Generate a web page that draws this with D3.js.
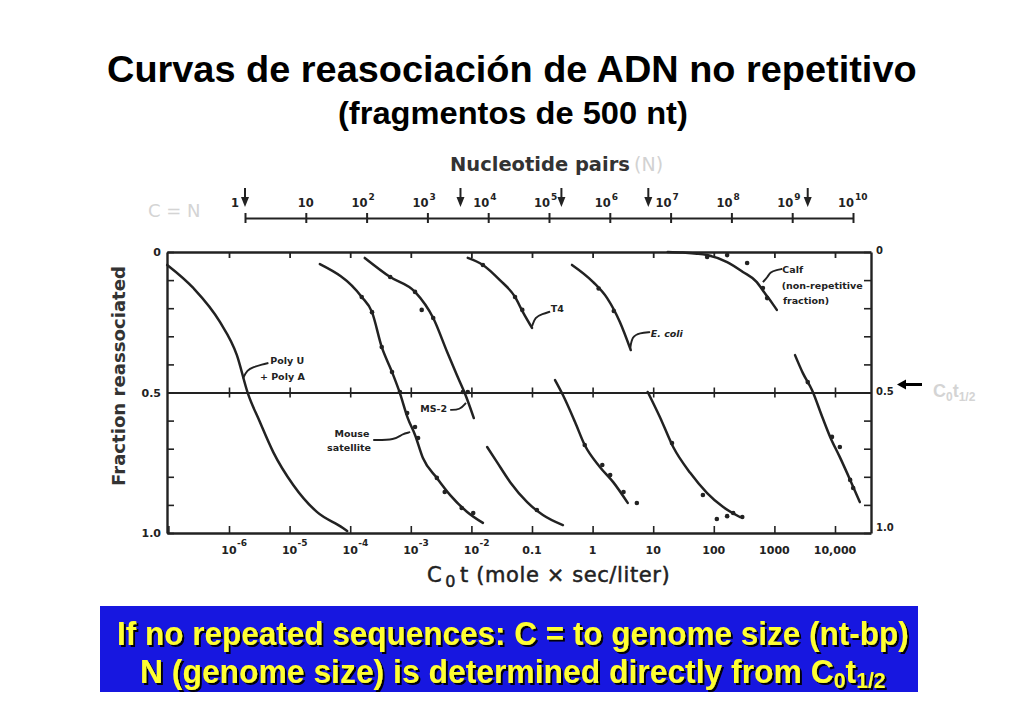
<!DOCTYPE html>
<html><head><meta charset="utf-8">
<script src="https://cdn.jsdelivr.net/npm/d3@7"></script>
<style>body{margin:0;background:#fff}svg{display:block}</style>
</head><body><svg id="c" width="1024" height="709"></svg>
<script>
// ---------- DATA (log10 Cot, fraction reassociated) ----------
const polyCurve   = [[-7.02,0.046],[-6.59,0.128],[-6.15,0.249],[-5.87,0.367],[-5.69,0.502],[-5.49,0.605],[-5.27,0.712],[-4.94,0.829],[-4.55,0.925],[-4.12,0.982],[-4.05,0.993]];
const mouseCurve  = [[-4.50,0.043],[-3.81,0.160],[-3.64,0.214],[-3.48,0.338],[-3.31,0.427],[-3.18,0.502],[-3.05,0.591],[-2.93,0.651],[-2.80,0.733],[-2.57,0.804],[-2.35,0.865],[-2.07,0.925],[-1.81,0.964]];
const ms2Upper    = [[-3.76,0.021],[-3.34,0.089],[-2.93,0.142],[-2.63,0.235],[-2.40,0.356],[-2.24,0.438],[-2.11,0.502],[-1.96,0.591]];
const ms2Lower    = [[-1.74,0.694],[-1.58,0.747],[-1.36,0.819],[-1.08,0.890],[-0.82,0.936],[-0.49,0.972]];
const t4Upper     = [[-2.06,0.021],[-1.81,0.046],[-1.53,0.100],[-1.28,0.160],[-1.15,0.214],[-1.00,0.270]];
const t4Lower     = [[-0.62,0.456],[-0.49,0.509],[-0.29,0.605],[-0.13,0.687],[0.12,0.765],[0.34,0.819],[0.58,0.893]];
const ecoliUpper  = [[-0.34,0.046],[0.01,0.107],[0.24,0.164],[0.45,0.249],[0.63,0.349]];
const ecoliLower  = [[0.91,0.498],[1.11,0.587],[1.33,0.694],[1.61,0.786],[1.89,0.858],[2.15,0.907],[2.43,0.943]];
const calfUpper   = [[1.24,0.0],[1.49,0.002],[1.89,0.011],[2.22,0.036],[2.48,0.071],[2.71,0.107],[2.84,0.146],[2.96,0.181],[3.04,0.206]];
const calfLower   = [[3.34,0.367],[3.47,0.431],[3.62,0.491],[3.79,0.587],[3.92,0.658],[4.08,0.730],[4.25,0.811],[4.41,0.890]];

const mouseDots = [[-3.81,0.160],[-3.64,0.214],[-3.48,0.338],[-3.31,0.427],[-3.18,0.498],[-3.06,0.573],[-2.93,0.623],[-2.88,0.662],[-2.57,0.804],[-2.44,0.854],[-2.16,0.911],[-1.97,0.929]];
const ms2Dots   = [[-3.34,0.089],[-2.93,0.142],[-2.82,0.206],[-2.63,0.235],[-2.14,0.498],[-2.06,0.498],[-0.92,0.918]];
const t4Dots    = [[-1.81,0.046],[-1.28,0.160],[-1.16,0.206],[-0.13,0.687],[0.16,0.758],[0.29,0.794],[0.51,0.854],[0.73,0.893]];
const ecoliDots = [[0.10,0.13],[0.35,0.21],[1.31,0.680],[1.82,0.865],[2.05,0.950],[2.22,0.940],[2.32,0.929],[2.47,0.943]];
const calfDots  = [[1.89,0.018],[2.22,0.011],[2.55,0.039],[2.81,0.128],[2.88,0.164],[3.55,0.463],[3.95,0.658],[4.08,0.694],[4.25,0.811],[4.30,0.840]];

// tick labels
const cotLabelValues = [1e-6,1e-5,1e-4,1e-3,1e-2,0.1,1,10,100,1000,1e4];
const cotLabelBase   = ["10","10","10","10","10","0.1","1","10","100","1000","10,000"];
const cotLabelExp    = ["-6","-5","-4","-3","-2","","","","","",""];
const nucValues   = [1,10,1e2,1e3,1e4,1e5,1e6,1e7,1e8,1e9,1e10];
const nucBase     = ["1","10","10","10","10","10","10","10","10","10","10"];
const nucExp      = ["","","2","3","4","5","6","7","8","9","10"];
const genomeArrows = [1, 3.5e3, 1.6e5, 4.3e6, 1.8e9];
const fracTicks   = [0,0.1,0.2,0.3,0.4,0.5,0.6,0.7,0.8,0.9,1.0];
const fracLabels  = [[0,"0"],[0.5,"0.5"],[1,"1.0"]];

// annotations: [logCot, frac]
const polyLeader  = [[-5.77,0.45],[-5.70,0.42],[-5.60,0.41],[-5.45,0.40],[-5.35,0.395]];
const mouseLeader = [[-3.62,0.669],[-3.26,0.669],[-3.15,0.648],[-3.01,0.641]];
const ms2Leader   = [[-2.35,0.562],[-2.19,0.562],[-2.09,0.537]];
const t4Leader    = [[-1.00,0.265],[-0.95,0.232],[-0.83,0.221],[-0.70,0.212]];
const ecoliLeader = [[0.62,0.345],[0.65,0.300],[0.78,0.288],[0.95,0.285]];
const calfLeader  = [[2.81,0.107],[2.89,0.089],[2.93,0.071],[3.04,0.064],[3.13,0.060]];
const curveLabels = [
  {t:"Poly U", p:[-5.32,0.399], a:"start"},
  {t:"+ Poly A", p:[-5.49,0.456], a:"start"},
  {t:"Mouse", p:[-3.97,0.658], a:"middle"},
  {t:"satellite", p:[-4.02,0.708], a:"middle"},
  {t:"MS-2", p:[-2.40,0.569], a:"end"},
  {t:"T4", p:[-0.69,0.215], a:"start"},
  {t:"E. coli", p:[0.96,0.302], a:"start"},
  {t:"Calf", p:[3.13,0.075], a:"start"},
  {t:"(non-repetitive", p:[3.12,0.132], a:"start"},
  {t:"fraction)", p:[3.14,0.185], a:"start"}
];

// ---------- DRAW ----------
const svg = d3.select("#c");
const defs = svg.append("defs");
defs.append("filter").attr("id","sh").attr("x","-10%").attr("y","-30%").attr("width","130%").attr("height","170%")
  .append("feDropShadow").attr("dx",2).attr("dy",2).attr("stdDeviation",0.6).attr("flood-color","#000").attr("flood-opacity",0.95);
const ink = "#222";
const x = d3.scaleLog().domain([1e-6,1e4]).range([229,835]);
const xDom = [x.invert(167), x.invert(871)];
x.domain(xDom).range([167,871]);
const y = d3.scaleLinear().domain([0,1]).range([252,533]);
const xN = d3.scaleLog().domain([1,1e10]).range([245,853]);
const X = d => x(Math.pow(10,d[0])), Y = d => y(d[1]);
const sans = "Liberation Sans, Arial, sans-serif";

// helper: fit a text to a target width by horizontal scaling of its group
function fitText(parent, x0, y0, targetW, build){
  const g = parent.append("g");
  const t = g.append("text").attr("x",0).attr("y",0);
  build(t);
  const w = t.node().getComputedTextLength();
  g.attr("transform",`translate(${x0},${y0}) scale(${targetW/w},1)`);
  return t;
}

// Titles
fitText(svg,107,82,810,t=>t.attr("font-family",sans).attr("font-weight","bold").attr("font-size",36.5)
  .attr("fill","#000").text("Curvas de reasociación de ADN no repetitivo"));
fitText(svg,338,124,350,t=>t.attr("font-family",sans).attr("font-weight","bold").attr("font-size",31)
  .attr("fill","#000").text("(fragmentos de 500 nt)"));

// top nucleotide axis
const figFont = "DejaVu Sans, sans-serif";
fitText(svg,450,171,180,t=>t.attr("font-family",figFont).attr("font-weight","bold")
  .attr("font-size",19).attr("fill","#333").text("Nucleotide pairs"));
svg.append("text").attr("x",634).attr("y",171).attr("font-family",figFont)
  .attr("font-size",19).attr("fill","#d2d2d2").text("(N)");
svg.append("text").attr("x",148).attr("y",217).attr("font-family",figFont).attr("font-size",18)
  .attr("fill","#d4d4d4").text("C = N");

const gN = svg.append("g").attr("transform","translate(0,218)");
gN.call(d3.axisBottom(xN).tickValues(nucValues).tickSize(5).tickSizeOuter(0).tickFormat(""));
gN.selectAll(".tick line").attr("y1",-5).attr("stroke",ink).attr("stroke-width",2);
gN.select(".domain").attr("stroke",ink).attr("stroke-width",2);
nucValues.forEach((v,i)=>{
  const px = xN(v);
  const t = svg.append("text").attr("y",207).attr("font-family",figFont).attr("font-weight","bold")
    .attr("font-size",11.5).attr("fill",ink);
  if (nucExp[i]) {
    t.attr("x",px+1).attr("text-anchor","end").text(nucBase[i]);
    svg.append("text").attr("x",px+2).attr("y",200).attr("font-family",figFont).attr("font-weight","bold")
      .attr("font-size",9).attr("fill",ink).text(nucExp[i]);
  } else if (v===1) {
    t.attr("x",px-6).attr("text-anchor","end").text(nucBase[i]);
  } else {
    t.attr("x",px).attr("text-anchor","middle").text(nucBase[i]);
  }
});
genomeArrows.forEach(v=>{
  const px = xN(v);
  svg.append("line").attr("x1",px).attr("x2",px).attr("y1",188).attr("y2",200).attr("stroke",ink).attr("stroke-width",2);
  svg.append("path").attr("d",`M${px-4},197L${px+4},197L${px},207Z`).attr("fill",ink);
});

// frame: bottom axis with log minor ticks
const gB = svg.append("g").attr("transform",`translate(0,${y(1)})`);
gB.call(d3.axisBottom(x).tickValues(x.ticks()).tickSize(-7).tickSizeOuter(0).tickFormat(""));
gB.selectAll(".tick line").attr("stroke",ink).attr("stroke-width",1.6);
gB.select(".domain").attr("stroke",ink).attr("stroke-width",2.4);
cotLabelValues.forEach((v,i)=>{
  const px = x(v);
  svg.append("text").attr("x",px).attr("y",554).attr("text-anchor","middle").attr("font-family",figFont)
    .attr("font-weight","bold").attr("font-size",11).attr("fill",ink).text(cotLabelBase[i]);
  if (cotLabelExp[i]) {
    svg.append("text").attr("x",px+8).attr("y",546).attr("font-family",figFont)
      .attr("font-weight","bold").attr("font-size",9).attr("fill",ink).text(cotLabelExp[i]);
  }
});

// top border with decade ticks
const gT = svg.append("g").attr("transform",`translate(0,${y(0)})`);
gT.call(d3.axisTop(x).tickValues(cotLabelValues).tickSize(-6).tickSizeOuter(0).tickFormat(""));
gT.selectAll(".tick line").attr("stroke",ink).attr("stroke-width",1.8);
gT.select(".domain").attr("stroke",ink).attr("stroke-width",2.4);

// mid line at 0.5
const gM = svg.append("g").attr("transform",`translate(0,${y(0.5)})`);
gM.call(d3.axisBottom(x).tickValues(cotLabelValues).tickSize(5).tickSizeOuter(0).tickFormat(""));
gM.selectAll(".tick line").attr("y1",-5).attr("stroke",ink).attr("stroke-width",1.6);
gM.select(".domain").attr("stroke",ink).attr("stroke-width",1.9);

// left & right axes
const gL = svg.append("g").attr("transform","translate(167,0)");
gL.call(d3.axisLeft(y).tickValues(fracTicks).tickSize(-7).tickSizeOuter(0).tickFormat(""));
gL.selectAll(".tick line").attr("stroke",ink).attr("stroke-width",1.6);
gL.select(".domain").attr("stroke",ink).attr("stroke-width",2.4);
const gR = svg.append("g").attr("transform","translate(871,0)");
gR.call(d3.axisRight(y).tickValues(fracTicks).tickSize(-7).tickSizeOuter(0).tickFormat(""));
gR.selectAll(".tick line").attr("stroke",ink).attr("stroke-width",1.6);
gR.select(".domain").attr("stroke",ink).attr("stroke-width",2.4);
fracLabels.forEach(([v,t])=>{
  svg.append("text").attr("x",161).attr("y",y(v)+4).attr("text-anchor","end").attr("font-family",figFont)
    .attr("font-weight","bold").attr("font-size",11).attr("fill",ink).text(t);
  svg.append("text").attr("x",876).attr("y",y(v)+(v===1?-2:2)).attr("font-family",figFont)
    .attr("font-weight","bold").attr("font-size",10).attr("fill",ink).text(t);
});

// axis titles
svg.append("text").attr("transform","translate(125,376) rotate(-90)").attr("text-anchor","middle")
  .attr("font-family",figFont).attr("font-weight","bold").attr("font-size",17.5).attr("fill","#333")
  .attr("textLength",220).attr("lengthAdjust","spacingAndGlyphs")
  .text("Fraction reassociated");
const xt = svg.append("text").attr("x",427).attr("y",582).attr("font-family",figFont).attr("font-size",21)
  .attr("fill","#222").attr("stroke","#222").attr("stroke-width",0.5).attr("letter-spacing",0.6);
xt.append("tspan").text("C");
xt.append("tspan").attr("dy",5).attr("dx",3).attr("font-size",16).text("0");
xt.append("tspan").attr("dy",-5).attr("dx",4).text("t (mole × sec/liter)");

// right-hand Cot1/2 marker
svg.append("line").attr("x1",904).attr("x2",922).attr("y1",y(0.5)-8).attr("y2",y(0.5)-8).attr("stroke","#000").attr("stroke-width",3);
svg.append("path").attr("d",`M897,${y(0.5)-8}L906,${y(0.5)-13}L906,${y(0.5)-3}Z`).attr("fill","#000");
const ct = svg.append("text").attr("x",933).attr("y",y(0.5)+4).attr("font-family",sans)
  .attr("font-size",18).attr("font-weight","bold").attr("fill","#d4d4d4");
ct.append("tspan").text("C");
ct.append("tspan").attr("font-size",12).attr("dy",4).text("0");
ct.append("tspan").attr("dy",-4).text("t");
ct.append("tspan").attr("font-size",12).attr("dy",4).text("1/2");

// curves
const line = d3.line().x(X).y(Y).curve(d3.curveMonotoneX);
[polyCurve,mouseCurve,ms2Upper,ms2Lower,t4Upper,t4Lower,ecoliUpper,ecoliLower,calfUpper,calfLower].forEach(c=>{
  svg.append("path").attr("d",line(c)).attr("fill","none").attr("stroke",ink).attr("stroke-width",2.5)
    .attr("stroke-linecap","round");
});
[mouseDots,ms2Dots,t4Dots,ecoliDots,calfDots].forEach(ds=>{
  svg.append("g").selectAll("circle").data(ds).join("circle").attr("cx",X).attr("cy",Y).attr("r",2.3).attr("fill",ink);
});

// leaders & labels
const lead = d3.line().x(X).y(Y).curve(d3.curveBasis);
[polyLeader,mouseLeader,ms2Leader,t4Leader,ecoliLeader,calfLeader].forEach(l=>{
  svg.append("path").attr("d",lead(l)).attr("fill","none").attr("stroke",ink).attr("stroke-width",1.9);
});
curveLabels.forEach(c=>{
  svg.append("text").attr("x",X(c.p)).attr("y",Y(c.p)).attr("text-anchor",c.a)
    .attr("font-family",figFont).attr("font-weight","bold").attr("font-style",c.t==="E. coli"?"italic":"normal")
    .attr("font-size",9.5).attr("fill",ink).text(c.t);
});

// bottom blue box
svg.append("rect").attr("x",100).attr("y",606).attr("width",818).attr("height",86).attr("fill","#1717e0");
const boxG = svg.append("g").attr("filter","url(#sh)")
  .attr("font-family","Liberation Sans, Arial, sans-serif").attr("font-weight","bold").attr("fill","#ffff33");
fitText(boxG,117,645,792,t=>t.attr("font-size",33).text("If no repeated sequences: C = to genome size (nt-bp)"));
fitText(boxG,140,683,746,t=>{
  t.attr("font-size",33);
  t.append("tspan").text("N  (genome size) is determined directly from C");
  t.append("tspan").attr("font-size",22).attr("dy",5).text("0");
  t.append("tspan").attr("dy",-5).text("t");
  t.append("tspan").attr("font-size",22).attr("dy",5).text("1/2");
});
</script></body></html>
